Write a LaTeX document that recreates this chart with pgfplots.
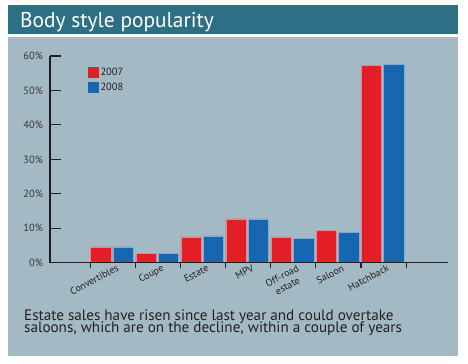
\documentclass[border=0pt]{standalone}
\usepackage{fontspec}
\setmainfont{PT Sans}
\usepackage{pgfplots}
\pgfplotsset{compat=1.18}
\definecolor{hdr}{HTML}{2D6F85}
\definecolor{panel}{HTML}{A3BAC4}
\definecolor{cred}{HTML}{E31E26}
\definecolor{cblue}{HTML}{1766B0}
\definecolor{ink}{HTML}{231F20}
\begin{document}
\begin{tikzpicture}[x=1bp,y=1bp]
\fill[white] (0,0) rectangle (468,363);
\fill[hdr] (8,329) rectangle (458,358);
\fill[panel] (8,7.3) rectangle (458,326.3);
\node[anchor=base west, inner sep=0, text=white, font=\fontsize{21.5}{24}\selectfont] at (20,335.3) {Body style popularity};
\node[anchor=base west, inner sep=0, text=ink, font=\fontsize{15.2}{15}\selectfont] at (24,42.5) {Estate sales have risen since last year and could overtake};
\node[anchor=base west, inner sep=0, text=ink, font=\fontsize{15.2}{15}\selectfont] at (24,30.3) {saloons, which are on the decline, within a couple of years};
% main axis: bars, y ticks, legend
\begin{axis}[
  at={(50bp,100.3bp)}, anchor=south west, scale only axis,
  width=398bp, height=206.7bp,
  xmin=-0.4, xmax=8.43, ymin=0, ymax=60,
  axis x line=bottom, axis y line=left,
  axis line style={-, line width=1.1bp, ink},
  xtick=\empty,
  ytick={0,10,...,60},
  yticklabel={\pgfmathprintnumber[assume math mode=true]{\tick}\%},
  yticklabel style={font=\fontsize{10.5}{12}\selectfont, text=ink!90, xshift=-3.5bp},
  tick align=inside, major tick length=10.5bp,
  tick style={line width=1.1bp, ink},
  ybar, bar width=0.455,
  legend style={at={(0.095,0.948)}, anchor=north west, draw=none, fill=none,
    inner sep=0pt, row sep=2.5bp, font=\fontsize{10.5}{11}\selectfont,
    text=ink, nodes={inner sep=1.5bp}},
  legend cell align=left,
  legend image code/.code={\fill[#1,draw=none] (0bp,-5.5bp) rectangle (11bp,5.5bp);},
]
\addplot[fill=cred, draw=cred!55!white, line width=0.5bp, bar shift=-0.27] coordinates {
  (1,4.6) (2,2.7) (3,7.5) (4,12.7) (5,7.5) (6,9.3) (7,57.2)};
\addlegendentry{2007}
\addplot[fill=cblue, draw=cblue!55!white, line width=0.5bp, bar shift=0.225] coordinates {
  (1,4.6) (2,2.7) (3,7.8) (4,12.7) (5,7.1) (6,8.9) (7,57.6)};
\addlegendentry{2008}
\end{axis}
% boundary ticks on the x axis
\begin{axis}[
  at={(50bp,100.3bp)}, anchor=south west, scale only axis,
  width=398bp, height=206.7bp,
  xmin=-0.4, xmax=8.43, ymin=0, ymax=60,
  axis x line=bottom, axis y line=none,
  axis line style={-, line width=1.1bp, ink},
  xtick={0.5,1.5,...,7.5}, xticklabels={},
  ytick=\empty,
  tick align=outside, major tick length=5.5bp,
  tick style={line width=1.1bp, ink},
]
\end{axis}
% category labels
\begin{axis}[
  at={(50bp,100.3bp)}, anchor=south west, scale only axis,
  width=398bp, height=206.7bp,
  xmin=-0.4, xmax=8.43, ymin=0, ymax=60,
  axis x line=bottom, axis y line=none,
  x axis line style={draw=none},
  xtick={1,...,7},
  xticklabels={Convertibles,Coupe,Estate,MPV,{Off-road\\estate},Saloon,Hatchback},
  xticklabel style={rotate=28, anchor=north east, align=center,
    font=\fontsize{10}{11.5}\selectfont, text=ink, inner sep=1bp, xshift=3bp, yshift=-1.5bp},
  ytick=\empty,
  major tick length=0pt, tick style={draw=none},
]
\end{axis}
\end{tikzpicture}
\end{document}
